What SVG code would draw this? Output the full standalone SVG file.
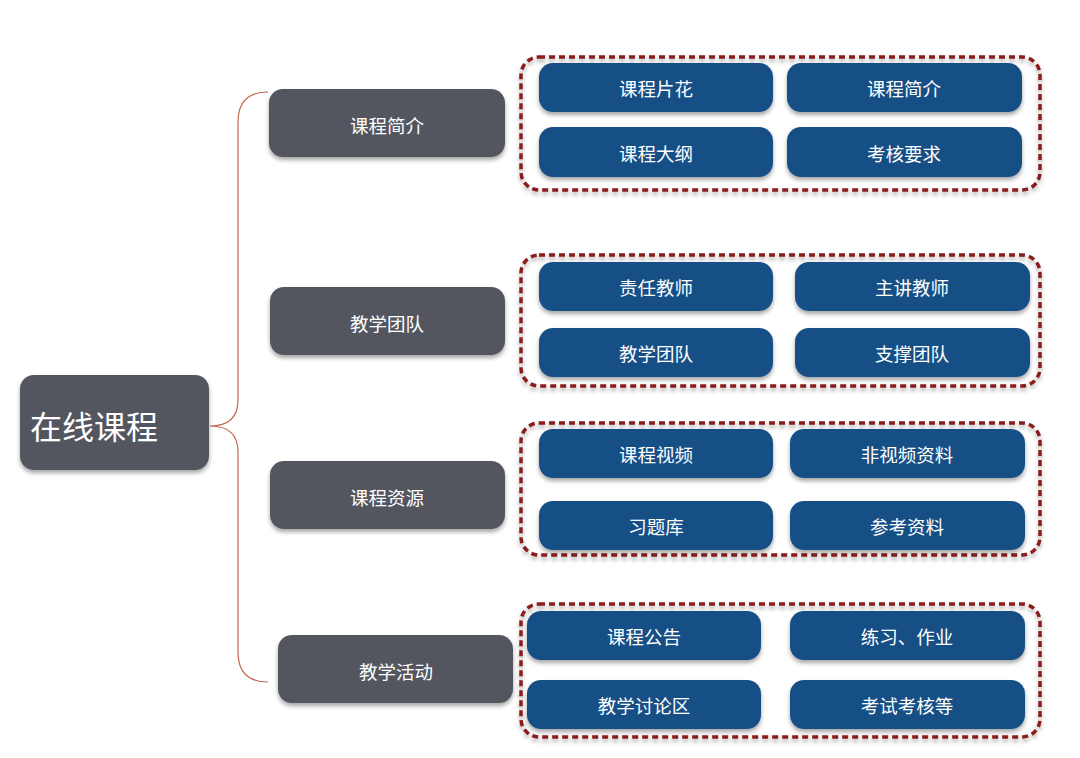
<svg xmlns="http://www.w3.org/2000/svg" width="1080" height="758" viewBox="0 0 1080 758">
<defs>
<filter id="sh" x="-10%" y="-20%" width="120%" height="150%">
<feDropShadow dx="0" dy="3" stdDeviation="2" flood-color="#000" flood-opacity="0.35"/>
</filter>
</defs>
<style>
.gray{fill:#53575e;filter:url(#sh)}
.blue{fill:#194f86;filter:url(#sh)}
.box{fill:none;stroke:#8b1a1a;stroke-width:3.5;stroke-dasharray:6 4;filter:url(#sh)}
.t{font-family:"Noto Sans CJK SC","Noto Sans",sans-serif;fill:#fff;text-anchor:middle;font-size:18.5px}
.tg{font-family:"Noto Sans CJK SC","Noto Sans",sans-serif;fill:#fff;text-anchor:middle;font-size:18.5px}
.conn{fill:none;stroke:#c5664e;stroke-width:1.2}
</style>
<rect width="1080" height="758" fill="#fff"/>
<g id="connectors">
<path class="conn" d="M268,92 Q238,92 238,122 V400 Q238,426 210,426 Q238,426 238,452 V652 Q238,682 268,682"/>
</g>
<g id="root">
<rect class="gray" x="20" y="375" width="189" height="95" rx="14"/>
<text x="30" y="439" font-family="Noto Sans CJK SC,sans-serif" font-size="32" fill="#fff">在线课程</text>
</g>
<g id="n1">
<rect class="gray" x="269" y="89" width="236" height="68" rx="14"/>
<text class="tg" x="387" y="132.5">课程简介</text>
</g>
<g id="n2">
<rect class="gray" x="270" y="287" width="235" height="68" rx="14"/>
<text class="tg" x="387" y="330.5">教学团队</text>
</g>
<g id="n3">
<rect class="gray" x="270" y="461" width="235" height="68" rx="14"/>
<text class="tg" x="387" y="504.5">课程资源</text>
</g>
<g id="n4">
<rect class="gray" x="278" y="635" width="235" height="68" rx="14"/>
<text class="tg" x="396" y="678.5">教学活动</text>
</g>
<g id="group1">
<rect class="box" x="521" y="57" width="519" height="133" rx="18"/>
<g id="g1a"><rect class="blue" x="539" y="63" width="234" height="49" rx="14"/><text class="t" x="656" y="95.5">课程片花</text></g>
<g id="g1b"><rect class="blue" x="787" y="63" width="235" height="49" rx="14"/><text class="t" x="904" y="95.5">课程简介</text></g>
<g id="g1c"><rect class="blue" x="539" y="127" width="234" height="50" rx="14"/><text class="t" x="656" y="160.5">课程大纲</text></g>
<g id="g1d"><rect class="blue" x="787" y="127" width="235" height="50" rx="14"/><text class="t" x="904" y="160.5">考核要求</text></g>
</g>
<g id="group2">
<rect class="box" x="521" y="255" width="519" height="131" rx="18"/>
<g id="g2a"><rect class="blue" x="539" y="262" width="234" height="49" rx="14"/><text class="t" x="656" y="294.5">责任教师</text></g>
<g id="g2b"><rect class="blue" x="795" y="262" width="235" height="49" rx="14"/><text class="t" x="912" y="294.5">主讲教师</text></g>
<g id="g2c"><rect class="blue" x="539" y="328" width="234" height="49" rx="14"/><text class="t" x="656" y="360.5">教学团队</text></g>
<g id="g2d"><rect class="blue" x="795" y="328" width="235" height="49" rx="14"/><text class="t" x="912" y="360.5">支撑团队</text></g>
</g>
<g id="group3">
<rect class="box" x="521" y="423" width="519" height="132" rx="18"/>
<g id="g3a"><rect class="blue" x="539" y="429" width="234" height="49" rx="14"/><text class="t" x="656" y="461.5">课程视频</text></g>
<g id="g3b"><rect class="blue" x="790" y="429" width="235" height="49" rx="14"/><text class="t" x="907" y="461.5">非视频资料</text></g>
<g id="g3c"><rect class="blue" x="539" y="501" width="234" height="49" rx="14"/><text class="t" x="656" y="533.5">习题库</text></g>
<g id="g3d"><rect class="blue" x="790" y="501" width="235" height="49" rx="14"/><text class="t" x="907" y="533.5">参考资料</text></g>
</g>
<g id="group4">
<rect class="box" x="521" y="604" width="519" height="133" rx="18"/>
<g id="g4a"><rect class="blue" x="527" y="611" width="234" height="49" rx="14"/><text class="t" x="644" y="643.5">课程公告</text></g>
<g id="g4b"><rect class="blue" x="790" y="611" width="235" height="49" rx="14"/><text class="t" x="907" y="643.5">练习、作业</text></g>
<g id="g4c"><rect class="blue" x="527" y="680" width="234" height="49" rx="14"/><text class="t" x="644" y="712.5">教学讨论区</text></g>
<g id="g4d"><rect class="blue" x="790" y="680" width="235" height="49" rx="14"/><text class="t" x="907" y="712.5">考试考核等</text></g>
</g>
</svg>
